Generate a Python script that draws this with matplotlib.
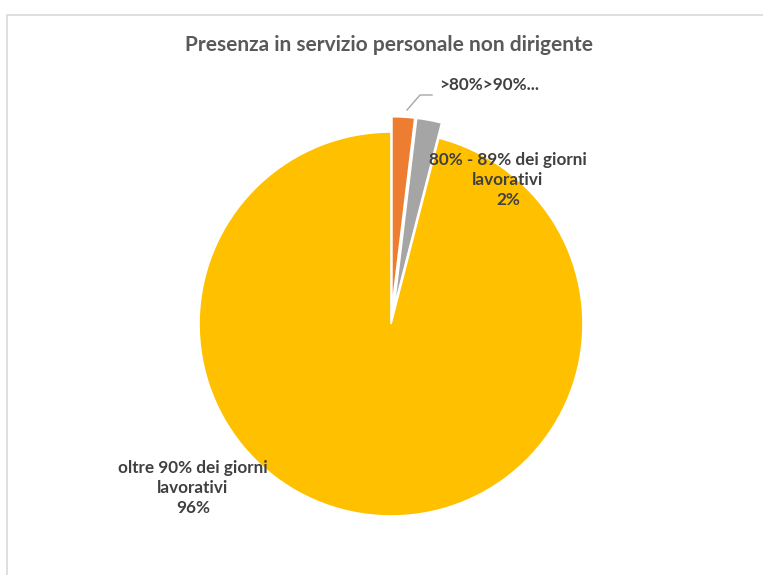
import matplotlib
matplotlib.use("Agg")
import matplotlib.pyplot as plt
from matplotlib.patches import Rectangle

title = "Presenza in servizio personale non dirigente"
categories = [">80%>90%...", "80% - 89% dei giorni\nlavorativi", "oltre 90% dei giorni\nlavorativi"]
values = [1.9, 2.1, 96.0]
pct_labels = ["", "2%", "96%"]
colors = ["#ED7D31", "#A5A5A5", "#FFC000"]
explode = [0.08, 0.08, 0.0]

W, H = 763, 575
fig = plt.figure(figsize=(W / 100, H / 100), dpi=100)
ax = fig.add_axes([0, 0, 1, 1])

R = 192.0
cx, cy = 391.0, 324.0  # pixel coords from top-left
ax.pie(values, colors=colors, explode=explode, startangle=90, counterclock=False,
       radius=1.0, wedgeprops=dict(edgecolor="white", linewidth=1.2))
ax.set_aspect("auto")
ax.set_xlim(-cx / R, (W - cx) / R)
ax.set_ylim(-(H - cy) / R, cy / R)
ax.axis("off")

def px(x, y):
    return ((x - cx) / R, (cy - y) / R)

font = ["Lato", "DejaVu Sans"]
tc = "#404040"

# frame border
fig.patches.append(Rectangle((7 / W, -0.1), 1.2, (H - 15) / H + 0.1, transform=fig.transFigure,
                             fill=False, edgecolor="#D9D9D9", linewidth=1.2))

fig.text(389 / W, 1 - 45 / H, title, ha="center", va="center", fontsize=15,
         fontweight="bold", color="#595959", family=font)

fs = 12.3
# labels
x, y = px(489, 85)
ax.text(x, y, categories[0], ha="center", va="center", fontsize=fs, fontweight="bold",
        color=tc, family=font)
p1 = px(407, 110); p2 = px(420, 95); p3 = px(432, 95)
ax.plot([p1[0], p2[0], p3[0]], [p1[1], p2[1], p3[1]], color="#A6A6A6", linewidth=1)

x, y = px(508, 180)
ax.text(x, y, categories[1] + "\n" + pct_labels[1], ha="center", va="center", fontsize=fs,
        fontweight="bold", color=tc, family=font, linespacing=1.3)

x, y = px(193, 488)
ax.text(x, y, categories[2] + "\n" + pct_labels[2], ha="center", va="center", fontsize=fs,
        fontweight="bold", color=tc, family=font, linespacing=1.3)

fig.savefig("out.png", dpi=100)
